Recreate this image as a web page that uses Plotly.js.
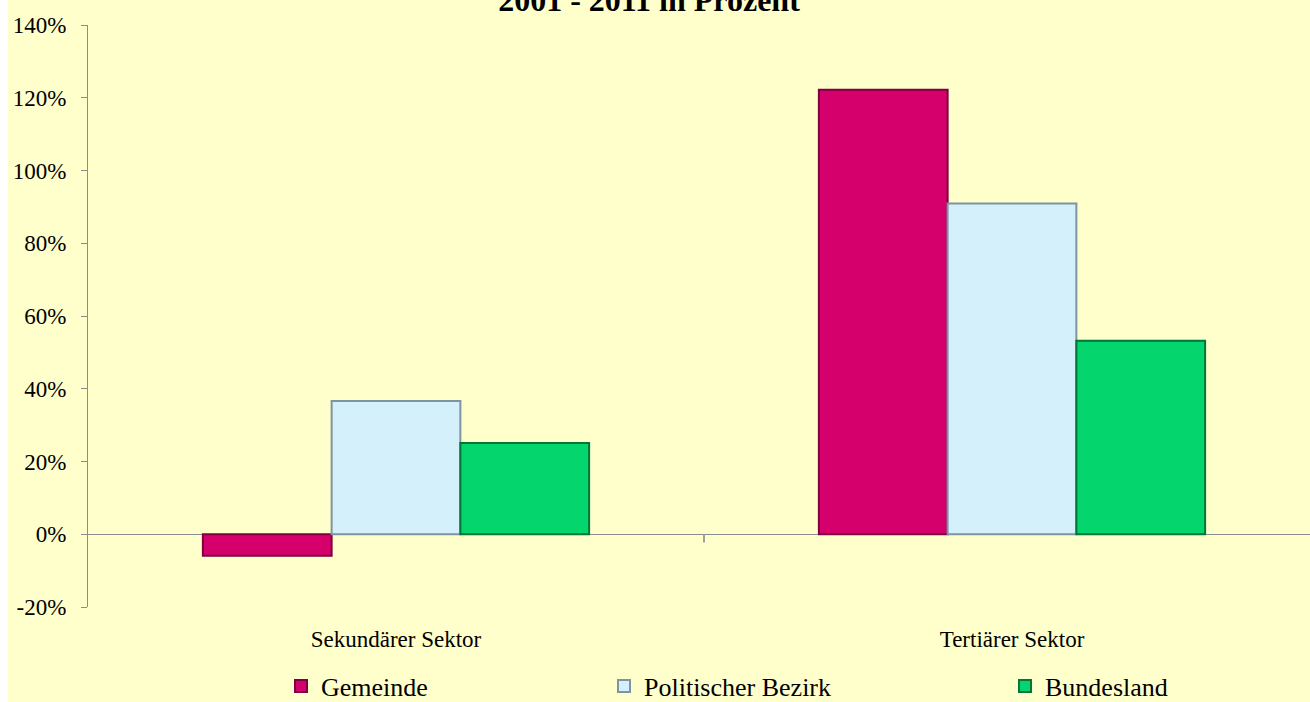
<!DOCTYPE html>
<html>
<head>
<meta charset="utf-8">
<script src="https://cdn.plot.ly/plotly-3.0.1.min.js"></script>
<style>
  html, body { margin: 0; padding: 0; background: #ffffff; overflow: hidden; }
  #chart { position: absolute; left: 8px; top: 0; width: 1302px; height: 702px; }
</style>
</head>
<body>
<div id="chart"></div>
<script>
const categories = ['Sekundärer Sektor', 'Tertiärer Sektor'];
const seriesNames = ['Gemeinde', 'Politischer Bezirk', 'Bundesland'];
const gemeinde = [-5.9, 122.2];
const politischerBezirk = [36.6, 90.9];
const bundesland = [25.1, 53.2];
const yTickValues = [-20, 0, 20, 40, 60, 80, 100, 120, 140];
const titleText = '2001 - 2011 in Prozent';

const fills = ['#D5006B', '#D3F0FB', '#05D56D'];
const edges = ['#7E0040', '#7F93A3', '#03743A'];
const seriesValues = [gemeinde, politischerBezirk, bundesland];
const legendIds = ['legend', 'legend2', 'legend3'];

const serif = 'Liberation Serif, Times New Roman, serif';

const traces = seriesValues.map((vals, i) => ({
  type: 'bar',
  name: seriesNames[i],
  x: categories,
  y: vals,
  legend: legendIds[i],
  marker: { color: fills[i], line: { color: edges[i], width: 2 } },
  hoverinfo: 'skip'
}));

const W = 1302, H = 702;
const legendStartPx = [281, 604, 1005]; // absolute page x of each legend item start
function legendCfg(px) {
  return {
    orientation: 'h',
    xref: 'container', yref: 'container',
    x: (px - 8) / W, xanchor: 'left',
    y: 1 - 686 / H, yanchor: 'middle',
    bgcolor: 'rgba(0,0,0,0)',
    borderwidth: 0,
    font: { family: serif, size: 26, color: '#000' }
  };
}

const layout = {
  width: W, height: H,
  paper_bgcolor: '#FFFFCC',
  plot_bgcolor: '#FFFFCC',
  margin: { l: 80, r: 0, t: 25, b: 95 },
  barmode: 'group',
  bargap: 0.373,
  bargroupgap: 0,
  title: {
    text: '<b>' + titleText + '</b>',
    font: { family: serif, size: 32, color: '#000' },
    xref: 'container', yref: 'container',
    x: 641 / W, xanchor: 'center',
    y: 1 - 11 / H, yanchor: 'bottom'
  },
  xaxis: {
    type: 'category',
    range: [-0.5, -0.5 + 1222 / 616],
    showline: false, showgrid: false, zeroline: false,
    ticks: '',
    ticklabelstandoff: 16,
    tickfont: { family: serif, size: 23, color: '#000' }
  },
  yaxis: {
    range: [-20, 140],
    tickvals: yTickValues,
    ticktext: yTickValues.map(v => v + '%'),
    showline: true, linecolor: '#8C8C8C', linewidth: 1,
    ticks: 'outside', ticklen: 6, tickcolor: '#8C8C8C',
    ticklabelstandoff: 10,
    showgrid: false,
    zeroline: true, zerolinecolor: '#8C8C8C', zerolinewidth: 1,
    tickfont: { family: serif, size: 23, color: '#000' }
  },
  shapes: [{
    type: 'line', xref: 'x', yref: 'y',
    x0: 0.5, x1: 0.5, y0: 0, y1: -2.3,
    line: { color: '#A0A0A0', width: 2 }
  }],
  legend: legendCfg(legendStartPx[0]),
  legend2: legendCfg(legendStartPx[1]),
  legend3: legendCfg(legendStartPx[2]),
  showlegend: true
};

Plotly.newPlot('chart', traces, layout, { staticPlot: true, displayModeBar: false });
</script>
</body>
</html>
